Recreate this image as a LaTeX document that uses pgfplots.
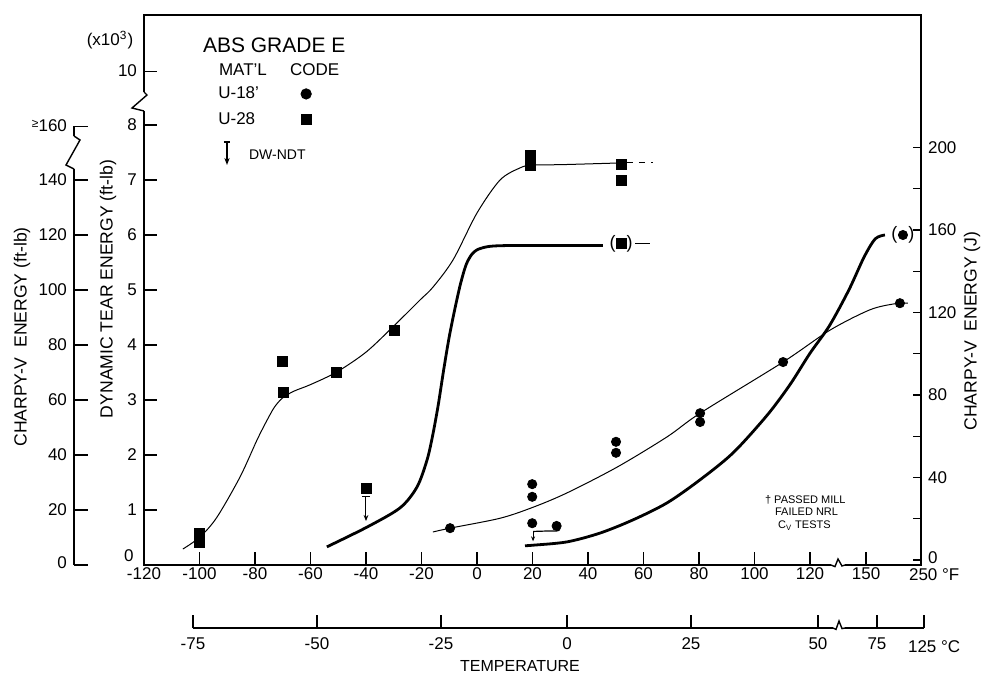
\documentclass[border=0pt]{standalone}
\usepackage{fontspec}
\setmainfont{Liberation Sans}
\usepackage{pgfplots}
\pgfplotsset{compat=1.18}
\usetikzlibrary{arrows.meta}
\newcommand{\tl}{\fontsize{8.5}{10}\selectfont}
\begin{document}
\begin{tikzpicture}
\useasboundingbox (-72pt,-56pt) rectangle (419pt,282.5pt);
% ---------------- main axis (deg F, dynamic tear) ----------------
\begin{axis}[
  at={(0pt,0pt)}, anchor=south west,
  scale only axis, width=388.5pt, height=275pt,
  xmin=-120, xmax=160, ymin=0, ymax=10,
  clip=false,
  axis line style={line width=0.7pt},
  tick align=inside, major tick length=6.5pt,
  every tick/.style={black, line width=0.6pt},
  xtick pos=left, ytick pos=left,
  xtick={-120,-100,-80,-60,-40,-20,0,20,40,60,80,100,120,140.2,160},
  xticklabels={-120,-100,-80,-60,-40,-20,0,20,40,60,80,100,120,150,{}},
  ytick={1,2,3,4,5,6,7,8,8.98},
  yticklabels={1,2,3,4,5,6,7,8,10},
  tick label style={font=\tl},
  xticklabel style={yshift=2pt},
  legend style={draw=none, fill=none, font=\tl, at={(axis description cs:0.09,0.878)}, anchor=north west, row sep=1.5pt, column sep=19pt, inner sep=0pt},
  legend plot pos=right, legend cell align=left,
]
\addlegendimage{only marks, mark=*, mark size=2.6pt, black}
\addlegendentry{U-18'}
\addlegendimage{only marks, mark=square*, mark size=2.5pt, black}
\addlegendentry{U-28}
% curve 1: U-28 (thin)
\addplot[black, line width=0.5pt, smooth, forget plot] coordinates {
(-106,0.29) (-99.8,0.51) (-93.7,0.87) (-85.4,1.60) (-79.3,2.27) (-76,2.6)
(-73,2.87) (-70,3.04) (-66,3.16) (-60,3.28) (-50.5,3.51) (-40,3.87) (-30.3,4.33) (-20.5,4.82)
(-15.9,5.05) (-8.6,5.55) (0,6.40) (8.3,7.0) (15.5,7.22) (19.8,7.27) (31,7.28) (51.5,7.31)};
\addplot[black, line width=0.5pt, dashed, forget plot] coordinates {(54,7.31) (63.4,7.31)};
% curve 2: thick
\addplot[black, line width=1.4pt, smooth, forget plot] coordinates {
(-54.1,0.33) (-39.6,0.69) (-27.7,1.04) (-21.6,1.42) (-18.0,1.91) (-16,2.35)
(-14,2.9) (-12,3.55) (-10,4.15) (-8,4.65) (-6,5.1) (-4,5.45) (-2,5.64) (0,5.73) (3,5.78) (6,5.80) (12,5.81)};
\addplot[black, line width=1.4pt, forget plot] coordinates {(12,5.81) (45.4,5.81)};
\addplot[black, line width=0.5pt, forget plot] coordinates {(57,5.84) (62.3,5.84)};
% curve 3: U-18' (thin)
\addplot[black, line width=0.5pt, smooth, forget plot] coordinates {
(-15.9,0.60) (-9.7,0.67) (8.3,0.85) (20.2,1.05) (32.4,1.31) (50.5,1.78)
(68.5,2.33) (80.4,2.76) (110.3,3.69) (127.2,4.27) (141.6,4.64) (150.6,4.75) (155.3,4.76)};
% curve 4: thick right
\addplot[black, line width=1.4pt, smooth, forget plot] coordinates {
(17.3,0.35) (20.2,0.36) (32.4,0.42) (44.3,0.58) (56.2,0.82) (68.5,1.13)
(80.4,1.55) (92.3,2.04) (104.5,2.72) (112.8,3.28) (120,3.85) (127,4.35)
(134,5.0) (139.5,5.6) (143.5,5.93) (147,6.0)};
% squares U-28
\addplot[only marks, mark=square*, mark size=2.5pt, black, forget plot] coordinates {
(-100,0.58) (-100,0.42) (-70.3,3.71) (-69.9,3.13) (-50.5,3.51) (-29.9,4.27)
(-40,1.40) (19.1,7.45) (19.1,7.27) (51.9,7.29) (51.9,7.0) (51.9,5.84)};
% circles U-18'
\addplot[only marks, mark=*, mark size=2.3pt, black, forget plot] coordinates {
(-9.7,0.67) (19.9,1.47) (19.9,1.24) (19.9,0.76) (28.7,0.71) (50.1,2.24) (50.1,2.04)
(80.4,2.76) (80.4,2.60) (110.3,3.69) (152.4,4.76) (153.5,6.0)};
% parentheses and DW-NDT arrows
\node[font=\fontsize{9}{10}\selectfont] at (axis cs:51.9,5.84) {(\hspace{5.5pt})};
\node[font=\fontsize{9}{10}\selectfont] at (axis cs:153.5,6.0) {(\hspace{5.5pt})};
\draw[line width=0.5pt] (axis cs:-41.3,1.24) -- (axis cs:-38.7,1.24);
\draw[line width=0.5pt, -{Stealth[length=3pt,width=2.4pt]}] (axis cs:-40,1.24) -- (axis cs:-40,0.80);
\draw[line width=0.5pt, -{Stealth[length=2.5pt,width=2pt]}] (axis cs:20.2,0.61) -- (axis cs:20.2,0.43);
\draw[line width=0.6pt] (axis cs:20.2,0.61) -- (axis cs:26.5,0.62) to[out=0,in=-60] (axis cs:29.6,0.66);
\end{axis}
% DT zero label (raised clear of the -120 label)
\node[font=\tl, inner sep=0pt, anchor=east] at (-5pt,4.5pt) {0};
% ---------------- right axis (J) ----------------
\begin{axis}[
  at={(0pt,0pt)}, anchor=south west,
  scale only axis, width=388.5pt, height=275pt,
  xmin=-120, xmax=160, ymin=0, ymax=10,
  axis x line=none, axis y line=right,
  axis line style={-, line width=0.7pt},
  tick align=inside, major tick length=4pt,
  every tick/.style={black, line width=0.6pt},
  ytick={0.09,0.84,1.59,2.34,3.09,3.84,4.59,5.34,6.09,6.84,7.59},
  yticklabels={{\raisebox{2pt}{0}},{},40,{},80,{},120,{},160,{},200},
  tick label style={font=\tl},
]
\end{axis}
% ---------------- left Charpy axis (ft-lb) ----------------
\begin{axis}[
  at={(-35pt,0pt)}, anchor=south west,
  scale only axis, width=1pt, height=219.45pt,
  xmin=0, xmax=1, ymin=0, ymax=159.6,
  axis x line=none, axis y line=left,
  axis line style={-, line width=0.7pt},
  tick align=inside, major tick length=7pt,
  every tick/.style={black, line width=0.6pt},
  ytick={0,20,40,60,80,100,120,140,159.6},
  yticklabels={{\raisebox{2.5pt}{0}},20,40,60,80,100,120,140,{\raisebox{2pt}{\fontsize{6}{6}\selectfont ≥}160}},
  tick label style={font=\tl},
]
\end{axis}
% ---------------- Celsius axis ----------------
\begin{axis}[
  at={(24.5pt,-31.5pt)}, anchor=south west,
  scale only axis, width=365.5pt, height=10pt,
  xmin=193, xmax=924, ymin=0, ymax=1,
  axis y line=none, axis x line=bottom,
  axis line style={-, line width=0.7pt},
  tick align=inside, major tick length=6.5pt,
  every tick/.style={black, line width=0.6pt},
  xtick={193,317,441,567,691,818,877,924},
  xticklabels={-75,-50,-25,0,25,50,75,{}},
  tick label style={font=\tl},
  xticklabel style={yshift=-1.5pt},
]
\end{axis}
% ---------------- breaks ----------------
\fill[white] (-1pt,227pt) rectangle (1pt,236.5pt);
\draw[line width=0.7pt] (0pt,236.5pt) -- (1.5pt,235pt) -- (-6pt,228.5pt) -- (0pt,227pt);
\fill[white] (-36pt,198pt) rectangle (-34pt,214.5pt);
\draw[line width=0.7pt] (-35pt,214.5pt) -- (-32pt,212.5pt) -- (-39pt,200pt) -- (-35pt,198pt);
\fill[white] (343.5pt,-0.8pt) rectangle (350.5pt,0.8pt);
\draw[line width=0.7pt] (343.5pt,0pt) -- (345.5pt,-0.8pt) -- (347pt,3pt) -- (349pt,-0.5pt) -- (350.5pt,0pt);
\fill[white] (344.5pt,-32.3pt) rectangle (350.5pt,-30.7pt);
\draw[line width=0.7pt] (344.5pt,-31.5pt) -- (346pt,-32.2pt) -- (347.5pt,-28pt) -- (349pt,-31.8pt) -- (350.5pt,-31.5pt);
% ---------------- texts ----------------
\node[rotate=90, font=\fontsize{8.8}{10}\selectfont] at (-61pt,114pt) {CHARPY-V\ \ ENERGY (ft-lb)};
\node[rotate=90, font=\fontsize{8.8}{10}\selectfont] at (-18pt,138pt) {DYNAMIC TEAR ENERGY (ft-lb)};
\node[rotate=90, font=\fontsize{8.8}{10}\selectfont] at (414pt,117pt) {CHARPY-V\ \ ENERGY (J)};
\node[font=\tl] at (-17pt,262.5pt) {(x10\textsuperscript{3})};
\node[anchor=west, font=\fontsize{10.5}{12}\selectfont] at (26pt,260pt) {ABS GRADE E};
\node[anchor=west, font=\tl] at (34pt,247.5pt) {MAT'L};
\node[anchor=west, font=\tl] at (69.5pt,247.5pt) {CODE};
\draw[line width=0.6pt] (40pt,211.5pt) -- (43pt,211.5pt);
\draw[line width=0.6pt, -{Stealth[length=3.5pt,width=2.6pt]}] (41.5pt,211.5pt) -- (41.5pt,200pt);
\node[anchor=west, font=\fontsize{7}{8}\selectfont] at (49pt,205pt) {DW-NDT};
\node[font=\fontsize{8}{10}\selectfont] at (188pt,-50.5pt) {TEMPERATURE};
\node[anchor=west, font=\tl] at (379pt,-5pt) {250 °F};
\node[anchor=west, font=\tl] at (378.5pt,-41pt) {125 °C};
\node[anchor=west, font=\fontsize{5.5}{6}\selectfont] at (307pt,32.5pt) {† PASSED MILL};
\node[anchor=west, font=\fontsize{5.5}{6}\selectfont] at (312pt,26.5pt) {FAILED NRL};
\node[anchor=west, font=\fontsize{5.5}{6}\selectfont] at (313.5pt,19.5pt) {C\textsubscript{V} TESTS};
\end{tikzpicture}
\end{document}
